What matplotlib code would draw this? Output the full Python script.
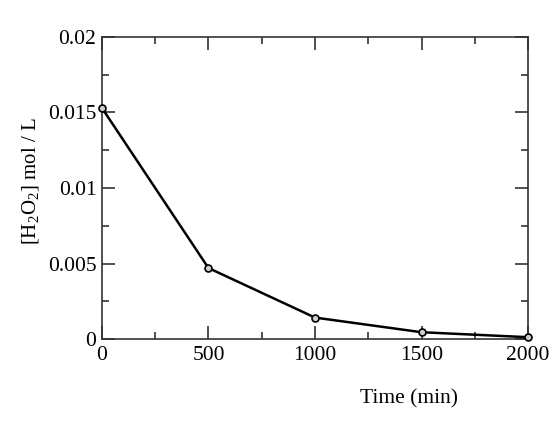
import matplotlib.pyplot as plt
from matplotlib.ticker import MultipleLocator

# H2O2 concentration decay over time
time_min = [0, 500, 1000, 1500, 2000]
h2o2 = [0.0153, 0.0047, 0.00142, 0.00045, 0.00012]

x_ticks = [0, 500, 1000, 1500, 2000]
x_labels = ['0', '500', '1000', '1500', '2000']
y_ticks = [0, 0.005, 0.01, 0.015, 0.02]
y_labels = ['0', '0.005', '0.01', '0.015', '0.02']

plt.rcParams['font.family'] = ['Liberation Serif', 'DejaVu Serif']
plt.rcParams['mathtext.fontset'] = 'custom'
plt.rcParams['mathtext.rm'] = 'Liberation Serif'

fig = plt.figure(figsize=(5.6, 4.4), dpi=100)
ax = fig.add_axes([0.182, 0.2295, 0.761, 0.6865])

ax.plot(time_min, h2o2, color='black', linewidth=1.8, marker='o', markersize=5,
        markerfacecolor='#cccccc', markeredgecolor='black', markeredgewidth=1.2,
        clip_on=False, zorder=3)

ax.set_xlim(0, 2000)
ax.set_ylim(0, 0.02)
ax.set_xticks(x_ticks)
ax.set_xticklabels(x_labels)
ax.set_yticks(y_ticks)
ax.set_yticklabels(y_labels)
ax.xaxis.set_minor_locator(MultipleLocator(250))
ax.yaxis.set_minor_locator(MultipleLocator(0.0025))

ax.tick_params(which='both', direction='in', top=True, right=True, width=1.2, colors='#333333',
               labelcolor='black', labelsize=15.5)
ax.tick_params(which='major', length=9.4)
ax.tick_params(axis='x', which='major', pad=5)
ax.tick_params(axis='y', which='major', pad=4)
ax.tick_params(which='minor', length=5)
for s in ax.spines.values():
    s.set_linewidth(1.2)
    s.set_color('#333333')

ax.set_xlabel('Time (min)', fontsize=15.5)
ax.xaxis.set_label_coords(0.72, -0.165, transform=ax.transAxes)
ax.xaxis.label.set_verticalalignment('top')
ax.set_ylabel(r'[H$_2$O$_2$] mol / L', fontsize=15)
ax.yaxis.set_label_coords(-0.14, 0.523)

fig.savefig('out.png', dpi=100, facecolor='white')
